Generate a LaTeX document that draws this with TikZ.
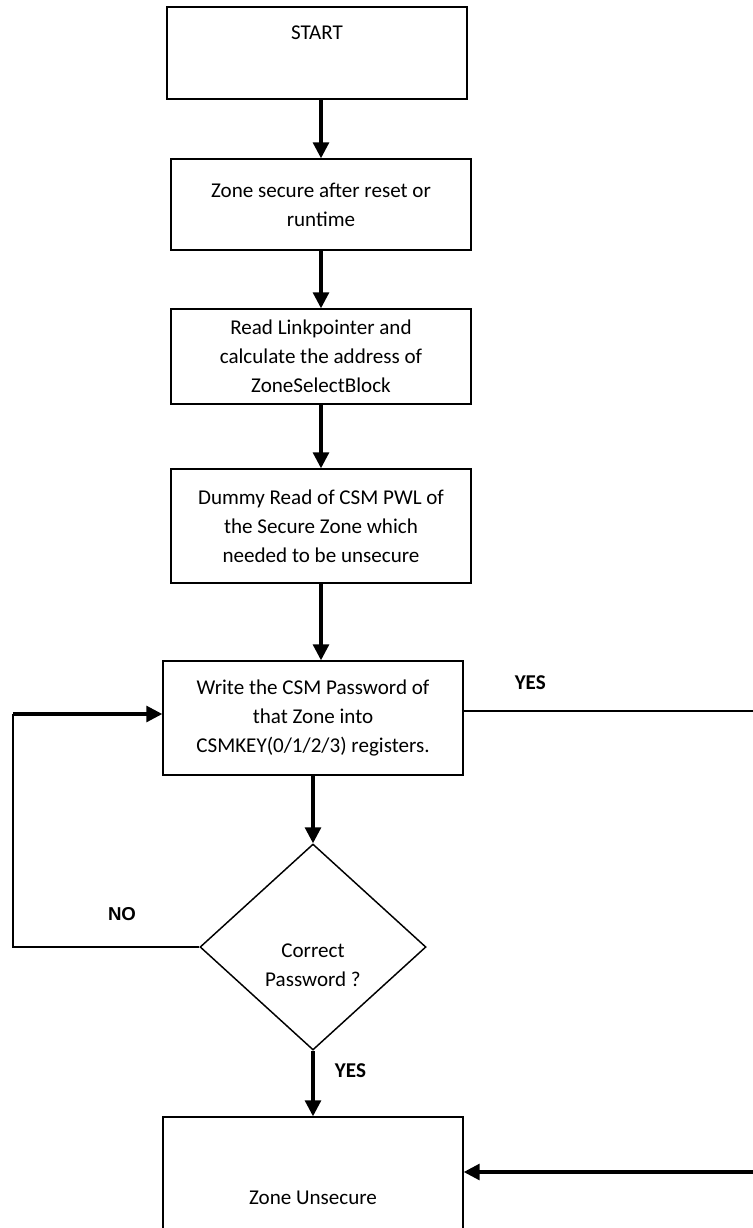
\documentclass[tikz,border=0pt]{standalone}
\usepackage{fontspec}
\setmainfont{Carlito}
\newfontfamily\arialfont{Liberation Sans}
\usetikzlibrary{arrows.meta,shapes.geometric}

\begin{document}
\begin{tikzpicture}[
  x=0.75pt,y=-0.75pt,
  every node/.style={font=\fontsize{15.8}{21.75}\selectfont},
  step box/.style={rectangle,draw,line width=1.1pt,minimum width=225pt,inner sep=0pt,align=center},
  decision/.style={diamond,draw,line width=1.1pt,minimum width=169.5pt,minimum height=154.5pt,inner sep=0pt},
  flow/.style={line width=2.3pt,-{Triangle[length=12pt,width=12pt]}},
  link/.style={line width=1.3pt},
  answer/.style={font=\fontsize{15.8}{19}\selectfont\bfseries},
]
\useasboundingbox (0,0) rectangle (753,1228);
\node[step box,minimum height=69pt,label={[yshift=15pt]center:START}] (start) at (317,53) {};
\node[step box,minimum height=68.25pt] (zone) at (321,204.5) {Zone secure after reset or\\runtime};
\node[step box,minimum height=71.25pt] (read) at (321,356.5) {Read Linkpointer and\\calculate the address of\\ZoneSelectBlock};
\node[step box,minimum height=85.5pt] (dummy) at (321,526) {Dummy Read of CSM PWL of\\the Secure Zone which\\needed to be unsecure};
\node[step box,minimum height=85.5pt] (write) at (313,718) {Write the CSM Password of\\that Zone into\\CSMKEY(0/1/2/3) registers.};
\node[decision,label={[yshift=-13.5pt,align=center]center:Correct\\Password ?}] (check) at (313,947) {};
\node[step box,minimum height=121.5pt] (unsec) at (313,1198) {Zone Unsecure};
\coordinate (noturn) at (13,714);
\coordinate (yesend) at (753,711);
\coordinate (yesback) at (753,1172);
% main flow
\draw[flow] (start.south -| zone.north) -- (zone.north);
\draw[flow] (zone) -- (read);
\draw[flow] (read) -- (dummy);
\draw[flow] (dummy.south) -- (dummy.south |- write.north);
\draw[flow] (write) -- (check);
\draw[flow] (check) -- node[answer,right=12pt,pos=0.3] {YES} (unsec);
% retry loop
\draw[link] (check.west) -- (check.west -| noturn) -- (noturn);
\draw[flow] (noturn) -- (noturn -| write.west);
\node[font=\fontsize{14}{16}\selectfont\arialfont\bfseries] (nolabel) at (122,914) {NO};
% right branch
\draw[link] (write.east |- yesend) -- node[answer,above=12pt,pos=0.23] {YES} (yesend);
\draw[flow] (yesback) -- (yesback -| unsec.east);
\end{tikzpicture}
\end{document}
